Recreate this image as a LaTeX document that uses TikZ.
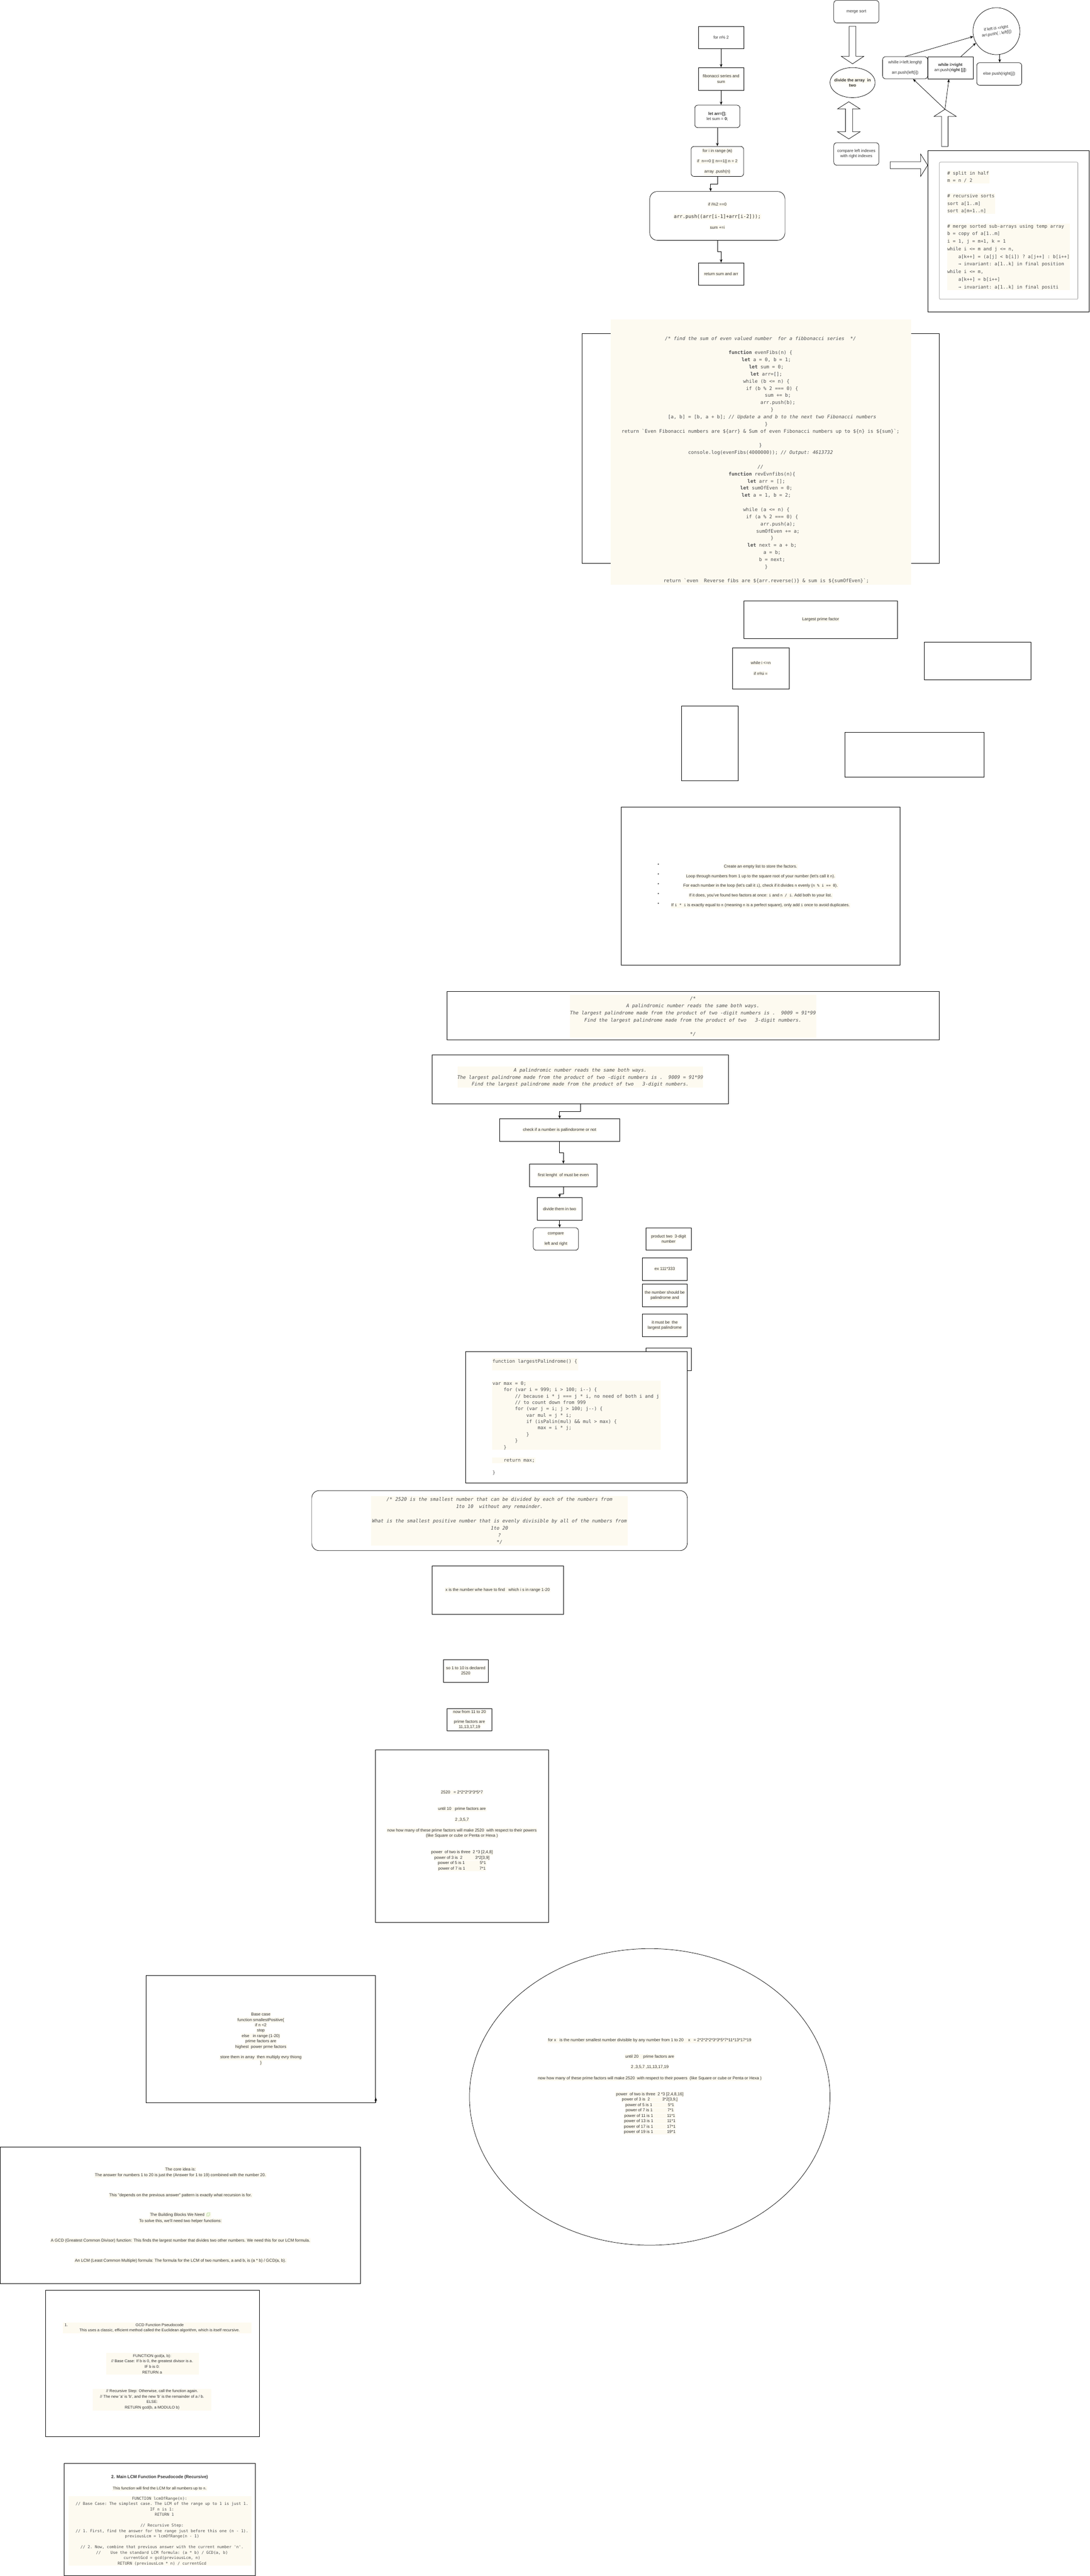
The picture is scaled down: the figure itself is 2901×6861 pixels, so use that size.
\documentclass[tikz,border=0pt]{standalone}
\usepackage{fontspec}
\setmainfont{Liberation Sans}
\setmonofont{DejaVu Sans Mono}
\newfontfamily\emojifont{Noto Emoji}
\usepackage{xcolor}
\usetikzlibrary{arrows.meta,positioning,shapes.geometric}

\definecolor{cream}{RGB}{253,250,240}
\definecolor{labelgray}{RGB}{51,51,51}
\definecolor{codegray}{RGB}{80,80,80}
\definecolor{framegray}{RGB}{150,150,150}
\definecolor{puzzle}{RGB}{110,190,70}

\newcommand\hl[1]{{\setlength{\fboxsep}{1.5pt}\colorbox{cream}{#1}}}
\newcommand\ind[1]{\hspace*{\dimexpr #1em*602/1000\relax}}
\newcommand\cd[1]{{\ttfamily\fontsize{10}{12}\selectfont #1}}

\begin{document}
\begin{tikzpicture}[x=1pt,y=-1pt,
	every node/.style={font=\fontsize{11}{14}\selectfont, text=labelgray},
	box/.style={draw, line width=1pt, inner sep=2pt, align=center},
	rbox/.style={box, rounded corners=8pt},
	code/.style={inner sep=0pt, text=codegray, align=center},
	flow/.style={line width=1pt, -{Stealth[length=9pt,width=7pt]}},
	hollow/.style={draw, line width=1pt, fill=white, line join=miter}
	]

	\useasboundingbox (0,0) rectangle (2901,6861);
	\fill[white] (0,0) rectangle (2901,6861);

	% fibonacci flow
	\node[box, minimum width=120, minimum height=60] (forn) at (1920,100) {for n\% 2};
	\node[box, minimum width=120, minimum height=60] (fibsum) at (1920,210) {\hl{fibonacci series and}\\\hl{sum}};
	\node[rbox, minimum width=120, minimum height=60] (letarr) at (1910,310) {\textbf{let arr=[];}\\let sum = \textbf{0};};
	\node[rbox, minimum width=140, minimum height=80] (forrange) at (1910,430) {\hl{for i in range (\textbf{n})}\\[14pt]\hl{if\ \ n==0 || n==1|| n = 2}\\[14pt]\hl{array .push(n)}};
	\node[rbox, rounded corners=20pt, minimum width=360, minimum height=130] (ifmod) at (1910,575) {\hl{if i\%2 ==0}\\[18pt]\hl{\ttfamily\fontsize{12.8}{15}\selectfont arr.push((arr[i-1]+arr[i-2]));}\\[15pt]\hl{sum +=i}};
	\node[box, minimum width=120, minimum height=60] (retsum) at (1920,730) {\hl{return sum and arr}};

	\draw[flow] (forn) -- (fibsum);
	\draw[flow] (fibsum.south) -- (fibsum.south |- letarr.north);
	\draw[flow] (letarr) -- (forrange);
	\draw[flow] (forrange.south) -- ++(0,20) -| ([xshift=-18]ifmod.north);
	\draw[flow] (ifmod.south) -- ++(0,30) -| (retsum.north);

	% merge sort
	\node[rbox, minimum width=120, minimum height=60] (merge) at (2280,31) {merge sort};
	\draw[hollow] (2261,70) -- (2279,70) -- (2279,150) -- (2300,150) -- (2270,170) -- (2240,150) -- (2261,150) -- cycle;
	\node[ellipse, draw, line width=1pt, minimum width=120, minimum height=80, inner sep=0pt] (divide) at (2270,220) {};
	\node[align=center, inner sep=0pt] (dividetext) at (divide.center) {\hl{\textbf{divide the array\ \ in}}\\\hl{\textbf{two}}};
	\draw[hollow] (2260,271) -- (2290,290) -- (2270,290) -- (2270,351) -- (2290,351) -- (2260,370) -- (2230,351) -- (2251,351) -- (2251,290) -- (2230,290) -- cycle;
	\node[rbox, minimum width=120, minimum height=60] (compare) at (2280,410) {compare left indexes\\with right indexes};
	\draw[hollow] (2370,431) -- (2451,431) -- (2451,410) -- (2470,440) -- (2451,470) -- (2451,449) -- (2370,449) -- cycle;
	\node[box, minimum width=430, minimum height=429] (mergebox) at (2685,615.5) {};
	\node[draw=framegray, line width=1pt, rounded corners=3pt, minimum width=369, minimum height=365] (mergecode) at (2685.5,614.5) {};
	\fill[cream] (2522,454) rectangle (2634,489);
	\fill[cream] (2522,515) rectangle (2649,570);
	\fill[cream] (2522,595) rectangle (2849,772);
	\node[code, align=left, anchor=west, font=\ttfamily\fontsize{12.3}{20.2}\selectfont] (mergetext) at (2522,613.5) {%
		\# split in half\\
		m = n / 2\\[20.2pt]
		\# recursive sorts\\
		sort a[1..m]\\
		sort a[m+1..n]\\[20.2pt]
		\# merge sorted sub-arrays using temp array\\
		b = copy of a[1..m]\\
		i = 1, j = m+1, k = 1\\
		while i <= m and j <= n,\\
		\ind{4}a[k++] = (a[j] < b[i]) ? a[j++] : b[i++]\\
		\ind{4}→ invariant: a[1..k] in final position\\
		while i <= m,\\
		\ind{4}a[k++] = b[i++]\\
		\ind{4}→ invariant: a[1..k] in final positi};
	\draw[hollow] (2507,390) -- (2507,310) -- (2487,310) -- (2516,291) -- (2546,310) -- (2524,310) -- (2524,390) -- cycle;
	\coordinate (uptip) at (2516,291);
	\node[rbox, minimum width=120, minimum height=59] (whileleft) at (2410,180.5) {whille i<left.lenghjt\\[14pt]arr.push(left[i])};
	\node[box, minimum width=121, minimum height=59] (whileright) at (2530.5,180.5) {\textbf{while i>right}\\arr.push(\textbf{right [j]})};
	\node[rbox, minimum width=120, minimum height=60] (elsepush) at (2660.5,197) {else push(right\{j])};
	\node[circle, draw, line width=1pt, minimum size=125, inner sep=0pt, align=center, rotate=8] (ifleft) at (2653,83) {if left is <right\\arr.push( ; left[i])};

	\draw[flow] (whileleft.north) -- (ifleft.185);
	\draw[flow] ([xshift=28]whileright.north) -- (ifleft.202);
	\draw[flow] (ifleft.south) -- (ifleft.south |- elsepush.north);
	\draw[flow] (uptip) -- ([xshift=21]whileleft.south);
	\draw[flow] (uptip) -- ([xshift=-4]whileright.south);

	% even fibonacci code
	\node[draw, line width=1pt, minimum width=950, minimum height=612] (fibframe) at (2025,1194) {};
	\fill[cream] (1626,851) rectangle (2426,1557);
	\node[code, font=\ttfamily\fontsize{12.8}{19}\selectfont] (fibcode) at (2025,1225) {%
		{\itshape /* find the sum of even valued number~~for a fibbonacci series~~*/}\\[19pt]
		\textbf{function} evenFibs(n) \{\\
		\ind{4}\textbf{let} a = 0, b = 1;\\
		\ind{4}\textbf{let} sum = 0;\\
		\ind{4}\textbf{let} arr=[];\\
		\ind{4}while (b <= n) \{\\
		\ind{8}if (b \% 2 === 0) \{\\
		\ind{12}sum += b;\\
		\ind{12}arr.push(b);\\
		\ind{8}\}\\
		\ind{8}[a, b] = [b, a + b]; {\itshape // Update a and b to the next two Fibonacci numbers}\\
		\ind{4}\}\\
		return `Even Fibonacci numbers are \$\{arr\} \& Sum of even Fibonacci numbers up to \$\{n\} is \$\{sum\}`;\\[19pt]
		\}\\
		console.log(evenFibs(4000000)); {\itshape // Output: 4613732}\\[19pt]
		{\itshape //}\\
		\ind{1}\textbf{function} revEvnfibs(n)\{\\
		\ind{4}\textbf{let} arr = [];\\
		\ind{4}\textbf{let} sumOfEven = 0;\\
		\ind{4}\textbf{let} a = 1, b = 2;\\[19pt]
		\ind{4}while (a <= n) \{\\
		\ind{8}if (a \% 2 === 0) \{\\
		\ind{12}arr.push(a);\\
		\ind{12}sumOfEven += a;\\
		\ind{8}\}\\
		\ind{8}\textbf{let} next = a + b;\\
		\ind{8}a = b;\\
		\ind{8}b = next;\\
		\ind{4}\}\\[19pt]
		\ind{4}return `even~~Reverse fibs are \$\{arr.reverse()\} \& sum is \$\{sumOfEven\}`;};

	% largest prime factor
	\node[box, minimum width=410, minimum height=100] (largest) at (2185,1650) {\hl{Largest prime factor}};
	\node[box, minimum width=151, minimum height=110] (whilein) at (2025.5,1780) {\hl{while i <=n}\\[14pt]\hl{if n\%i =}};
	\node[box, minimum width=285, minimum height=100] (emptyA) at (2603,1760) {};
	\node[box, minimum width=150, minimum height=200] (emptyB) at (1890,1980) {};
	\node[box, minimum width=370, minimum height=119] (emptyC) at (2435,2010.5) {};
	\node[box, minimum width=742, minimum height=420, font=\fontsize{11}{26}\selectfont] (steps) at (2025,2360) {%
		\hl{Create an empty list to store the factors.}\\
		\hl{Loop through numbers from 1 up to the square root of your number (let's call it \cd{n}).}\\
		\hl{For each number in the loop (let's call it \cd{i}), check if it divides \cd{n} evenly (\cd{n \% i == 0}).}\\
		\hl{If it does, you've found two factors at once: \cd{i} and \cd{n / i}. Add both to your list.}\\
		\hl{If \cd{i * i} is exactly equal to \cd{n} (meaning \cd{n} is a perfect square), only add \cd{i} once to avoid duplicates.}};
	\foreach \y [count=\k] in {2303,2329,2355,2382,2408}
		\node[inner sep=0pt] (dot\k) at (1753,\y) {\textbullet};

	% palindrome
	\node[box, minimum width=1311, minimum height=130] (palcomment) at (1845.5,2705) {};
	\fill[cream] (1518,2649) rectangle (2173,2763);
	\node[code, font=\ttfamily\itshape\fontsize{12.8}{19}\selectfont] (palcommenttext) at (1845,2707.5) {%
		/*\\
		A palindromic number reads the same both ways.\\
		The largest palindrome made from the product of two -digit numbers is .~~9009 = 91*99\\
		Find the largest palindrome made from the product of two~~~3-digit numbers.\\[19pt]
		*/};
	\node[box, minimum width=789, minimum height=130] (palproblem) at (1545.5,2875) {};
	\fill[cream] (1218,2840) rectangle (1872,2896);
	\node[code, font=\ttfamily\itshape\fontsize{12.8}{19}\selectfont] (palproblemtext) at (1545,2870) {%
		A palindromic number reads the same both ways.\\
		The largest palindrome made from the product of two -digit numbers is .~~9009 = 91*99\\
		Find the largest palindrome made from the product of two~~~3-digit numbers.};
	\node[box, minimum width=320, minimum height=60] (ispal) at (1490,3010) {\hl{check if a number is pallindorome or not}};
	\node[box, minimum width=180, minimum height=60] (evenlen) at (1500,3130) {\hl{first lenght\ \ of must be even}};
	\node[box, minimum width=120, minimum height=60] (halves) at (1490,3220) {\hl{divide them in two}};
	\node[rbox, minimum width=120, minimum height=60] (cmplr) at (1480,3300) {\hl{compare}\\[14pt]\hl{left and right}};
	\node[box, minimum width=120, minimum height=60] (prod) at (1780,3300) {\hl{product two\ \ 3-digit}\\\hl{number}};
	\node[box, minimum width=120, minimum height=60] (example) at (1770,3380) {\hl{ex 111*333}};
	\node[box, minimum width=120, minimum height=60] (shouldpal) at (1770,3450) {\hl{the number should be}\\\hl{palindrome and}};
	\node[box, minimum width=120, minimum height=60] (mustlargest) at (1770,3530) {\hl{it must be\ \ the}\\\hl{largest palindrome}};
	\node[box, minimum width=120, minimum height=60] (emptyD) at (1780,3620) {};
	\node[box, fill=white, minimum width=590, minimum height=350] (palcode) at (1535,3775) {};
	\fill[cream] (1311,3617) rectangle (1539,3650);
	\fill[cream] (1311,3677) rectangle (1759,3861);
	\fill[cream] (1311,3882) rectangle (1426,3897);
	\node[code, align=left, anchor=west, font=\ttfamily\fontsize{12.5}{17}\selectfont] (palcodetext) at (1311,3775) {%
		function largestPalindrome() \{\\[41pt]
		var max = 0;\\
		\ind{4}for (var i = 999; i > 100; i--) \{\\
		\ind{8}// because i * j === j * i, no need of both i and j\\
		\ind{8}// to count down from 999\\
		\ind{8}for (var j = i; j > 100; j--) \{\\
		\ind{12}var mul = j * i;\\
		\ind{12}if (isPalin(mul) \&\& mul > max) \{\\
		\ind{16}max = i * j;\\
		\ind{12}\}\\
		\ind{8}\}\\
		\ind{4}\}\\[18pt]
		\ind{4}return max;\\[16pt]
		\}};

	\draw[flow] (palproblem.south) -- ++(0,20) -| (ispal.north);
	\draw[flow] (ispal.south) -- ++(0,30) -| (evenlen.north);
	\draw[flow] (evenlen.south) -- ++(0,20) -| (halves.north);
	\draw[flow] (halves.south) -- ([xshift=10]cmplr.north);

	% smallest multiple
	\node[rbox, rounded corners=20pt, minimum width=1000, minimum height=160] (multcomment) at (1330,4050) {};
	\fill[cream] (988,3985) rectangle (1672,4117);
	\node[code, font=\ttfamily\itshape\fontsize{12.8}{19}\selectfont] (multtext) at (1330,4051) {%
		/* 2520 is the smallest number that can be divided by each of the numbers from\\
		1to 10~~without any remainder.\\[19pt]
		What is the smallest positive number that is evenly divisible by all of the numbers from\\
		1to 20\\
		?\\
		*/};
	\node[box, minimum width=350, minimum height=130] (findx) at (1325,4235) {\hl{x is the number whe have to find\ \ \ which i s in range 1-20}};
	\node[box, minimum width=120, minimum height=60] (upto10) at (1240,4450) {\hl{so 1 to 10 is declared}\\\hl{2520}};
	\node[box, minimum width=120, minimum height=60, inner sep=1pt] (from11) at (1250,4580) {\hl{now from 11 to 20}\\[12pt]\hl{prime factors are}\\\hl{11,13,17,19}};
	\node[box, minimum width=460, minimum height=460] (pow10) at (1230,4890) {};
	\node[align=center, inner sep=0pt, font=\fontsize{11}{14.4}\selectfont] (pow10text) at ([yshift=14]pow10.center) {%
		\hl{2520\ \ \ = 2*2*2*3*3*5*7}\\[29.6pt]
		\hl{until 10\ \ \ prime factors are}\\[14.6pt]
		\hl{2 ,3,5,7}\\[13.6pt]
		\hl{now how many of these prime factors will make 2520\ \ with respect to their powers}\\
		\hl{(like Square or cube or Penta or Hexa )}\\[29.6pt]
		\hl{power\ \ of two is three\ \ 2 *3 [2,4,8]}\\
		\hl{power of 3 is\ \ 2\hspace{34pt}3*2[3,9]}\\
		\hl{power of 5 is 1\hspace{40pt}5*1}\\
		\hl{power of 7 is 1\hspace{38pt}7*1}};

	% recursion
	\node[box, minimum width=611, minimum height=339, font=\fontsize{11}{14.3}\selectfont] (basecase) at (694.5,5430.5) {%
		\hl{Base case}\\
		\hl{function smallestPositive\{}\\
		\hl{if n <2}\\
		\hl{stop}\\
		\hl{else\ \ \ in range (1-20)}\\
		\hl{prime factors are}\\
		\hl{highest\ \ power prme factors}\\[14pt]
		\hl{store them in array\ \ then multiply evry thiong}\\
		\hl{\}}};
	\draw[flow] (basecase.south east) -- ++(0,-14);

	\node[ellipse, draw, line width=1pt, minimum width=960, minimum height=790, inner sep=0pt] (pow20) at (1730,5585) {};
	\node[align=center, inner sep=0pt, font=\fontsize{11}{14.4}\selectfont] (pow20text) at ([yshift=28]pow20.center) {%
		\hl{for x\ \ \ is the number smallest number divisible by any number from 1 to 20\ \ \ \ x\ \ \ = 2*2*2*2*3*3*5*7*11*13*17*19}\\[28.6pt]
		\hl{until 20\ \ \ \ prime factors are}\\[13.6pt]
		\hl{2 ,3,5,7 ,11,13,17,19}\\[15.6pt]
		\hl{now how many of these prime factors will make 2520\ \ with respect to their powers\ \ (like Square or cube or Penta or Hexa )}\\[27.6pt]
		\hl{power\ \ of two is three\ \ 2 *3 [2,4,8,16]}\\
		\hl{power of 3 is\ \ 2\hspace{33pt}3*2[3,9,]}\\
		\hl{power of 5 is 1\hspace{42pt}5*1}\\
		\hl{power of 7 is 1\hspace{40pt}7*1}\\
		\hl{power of 11 is 1\hspace{37pt}11*1}\\
		\hl{power of 13 is 1\hspace{37pt}11*1}\\
		\hl{power of 17 is 1\hspace{37pt}17*1}\\
		\hl{power of 19 is 1\hspace{37pt}19*1}};

	\node[box, minimum width=959, minimum height=364, font=\fontsize{11}{15.5}\selectfont] (coreidea) at (480.5,5900) {%
		\hl{The core idea is:}\\
		\hl{The answer for numbers 1 to 20 is just the (Answer for 1 to 19) combined with the number 20.}\\[38pt]
		\hl{This "depends on the previous answer" pattern is exactly what recursion is for.}\\[37pt]
		\hl{The Building Blocks We Need {\emojifont\textcolor{puzzle}{🧩}}}\\
		\hl{To solve this, we'll need two helper functions:}\\[37pt]
		\hl{A GCD (Greatest Common Divisor) function: This finds the largest number that divides two other numbers. We need this for our LCM formula.}\\[38pt]
		\hl{An LCM (Least Common Multiple) formula: The formula for the LCM of two numbers, a and b, is (a * b) / GCD(a, b).}};

	% gcd
	\node[box, minimum width=570, minimum height=390] (gcdbox) at (406,6295) {};
	\fill[cream] (168,6186) rectangle (669,6214);
	\node[anchor=west, inner sep=0pt, font=\fontsize{10.5}{14}\selectfont] (gcdnum) at (172,6193) {1.};
	\node[align=center, inner sep=0pt, font=\fontsize{10.5}{14}\selectfont] (gcdtitle) at (425,6200) {GCD Function Pseudocode\\This uses a classic, efficient method called the Euclidean algorithm, which is itself recursive.};
	\fill[cream] (282,6267) rectangle (529,6324);
	\node[align=center, inner sep=0pt, font=\fontsize{10.5}{14.6}\selectfont] (gcdbase) at (405,6296) {FUNCTION gcd(a, b):\\// Base Case: If b is 0, the greatest divisor is a.\\IF b is 0:\\RETURN a};
	\fill[cream] (247,6363) rectangle (563,6420);
	\node[align=center, inner sep=0pt, font=\fontsize{10.5}{14.3}\selectfont] (gcdstep) at (405,6391) {// Recursive Step: Otherwise, call the function again.\\// The new \textquotesingle a\textquotesingle{} is \textquotesingle b\textquotesingle, and the new \textquotesingle b\textquotesingle{} is the remainder of a / b.\\ELSE:\\RETURN gcd(b, a MODULO b)};

	% lcm
	\node[box, minimum width=510, minimum height=299] (lcmbox) at (425,6710.5) {};
	\node[inner sep=0pt, font=\bfseries\fontsize{11.5}{14}\selectfont] (lcmtitle) at (425,6598) {2. Main LCM Function Pseudocode (Recursive)};
	\node[inner sep=0pt, font=\fontsize{10.5}{14}\selectfont] (lcmnote) at (425,6628) {\hl{This function will find the LCM for all numbers up to {\ttfamily\fontsize{9.5}{12}\selectfont n}.}};
	\fill[cream] (182,6648) rectangle (669,6834);
	\node[code, font=\ttfamily\fontsize{10.6}{14.4}\selectfont] (lcmcode) at (425,6741.5) {%
		FUNCTION lcmOfRange(n):\\
		\ind{2}// Base Case: The simplest case. The LCM of the range up to 1 is just 1.\\
		\ind{2}IF n is 1:\\
		\ind{4}RETURN 1\\[14.4pt]
		\ind{2}// Recursive Step:\\
		\ind{2}// 1. First, find the answer for the range just before this one (n - 1).\\
		\ind{2}previousLcm = lcmOfRange(n - 1)\\[14.4pt]
		\ind{2}// 2. Now, combine that previous answer with the current number 'n'.\\
		\ind{2}//~~~~Use the standard LCM formula: (a * b) / GCD(a, b)\\
		\ind{2}currentGcd = gcd(previousLcm, n)\\
		\ind{2}RETURN (previousLcm * n) / currentGcd};
\end{tikzpicture}
\end{document}
